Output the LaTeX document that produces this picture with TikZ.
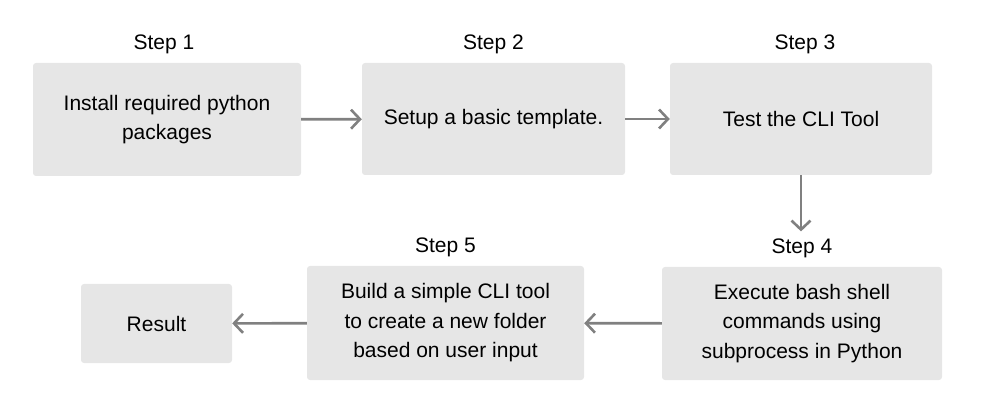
\documentclass[tikz,border=0pt]{standalone}
\usepackage{fontspec}
\setmainfont{Liberation Sans}
\usetikzlibrary{arrows.meta,positioning}
\definecolor{boxfill}{RGB}{230,230,230}
\definecolor{flowgray}{RGB}{128,128,128}
\tikzset{
  stepbox/.style={fill=boxfill,rounded corners=3pt,align=center,
    font=\fontsize{21}{29.5}\selectfont,inner sep=0pt},
  steplabel/.style={font=\fontsize{21}{24}\selectfont,inner sep=0pt},
  flow/.style={draw=flowgray,line width=2.6pt,
    -{Straight Barb[length=9pt,width=19pt,line width=2.6pt]}}
}
\begin{document}
\begin{tikzpicture}[x=1pt,y=-1pt]
  \useasboundingbox (0,0) rectangle (982,419);
  % top row
  \node[stepbox,minimum width=268pt,minimum height=113pt] (b1) at (167,119.5)
    {Install required python\\packages};
  \node[stepbox,minimum width=263pt,minimum height=112pt] (b2) at (493.5,119)
    {Setup a basic template.};
  \node[stepbox,minimum width=262pt,minimum height=112pt] (b3) at (801,119)
    {Test the CLI Tool};
  % bottom row
  \node[stepbox,minimum width=280pt,minimum height=113pt] (b4) at (802,323.5)
    {Execute bash shell\\commands using\\subprocess in Python};
  \node[stepbox,minimum width=277pt,minimum height=114pt] (b5) at (445.5,323)
    {Build a simple CLI tool\\to create a new folder\\based on user input};
  \node[stepbox,minimum width=151pt,minimum height=79pt] (res) at (156.5,323.5)
    {Result};
  % labels
  \node[steplabel,above=9pt of b1,xshift=-3pt] (s1) {Step 1};
  \node[steplabel,above=9pt of b2] (s2) {Step 2};
  \node[steplabel,above=9pt of b3,xshift=4pt] (s3) {Step 3};
  \node[steplabel,above=9pt of b4] (s4) {Step 4};
  \node[steplabel,above=9pt of b5] (s5) {Step 5};
  % arrows
  \draw[flow] (b1) -- (b2);
  \draw[flow] (b2) -- (b3);
  \draw[flow] (b3.south) -- ([yshift=7pt]b3.south |- s4.north);
  \draw[flow] (b4) -- (b5);
  \draw[flow] (b5) -- (res);
\end{tikzpicture}
\end{document}
